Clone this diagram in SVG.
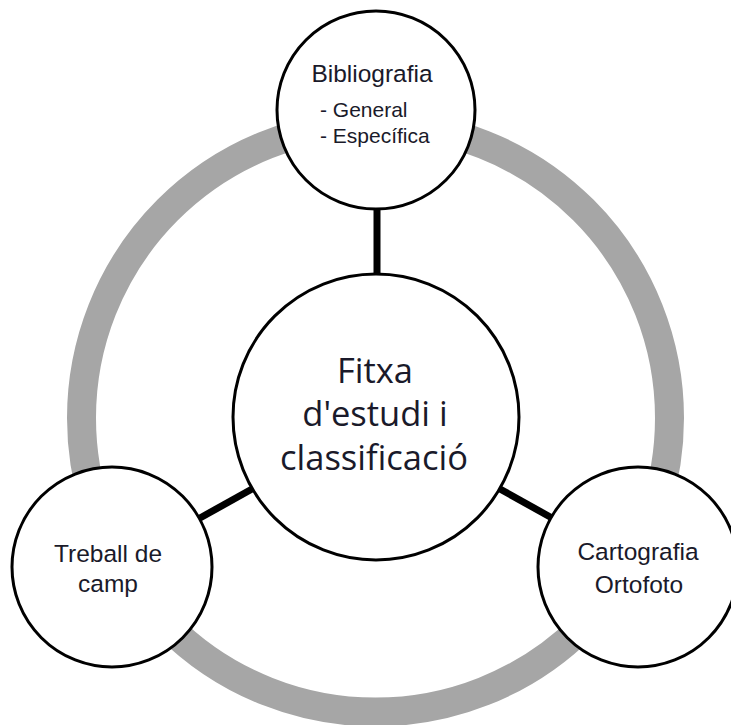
<svg xmlns="http://www.w3.org/2000/svg" width="731" height="725" viewBox="0 0 731 725">
  <style>
    .node { fill: #ffffff; stroke: #000000; stroke-width: 3; }
    .ring { fill: none; stroke: #a6a6a6; stroke-width: 29; }
    .conn { stroke: #000000; stroke-width: 7; stroke-linecap: butt; }
    .lbl { font-family: "Liberation Sans", Arial, sans-serif; fill: #1a1a2a; }
    .big { font-size: 24.5px; }
    .small { font-size: 21px; }
    .center { font-family: "Open Sans", "Noto Sans", sans-serif; font-size: 34.5px; fill: #1a1a2a; }
  </style>
  <rect x="0" y="0" width="731" height="725" fill="#ffffff"/>
  <circle class="ring" cx="375.5" cy="418" r="294"/>
  <g id="connectors">
    <line class="conn" x1="377" y1="207" x2="377" y2="274"/>
    <line class="conn" x1="252" y1="489" x2="200" y2="518"/>
    <line class="conn" x1="500" y1="489" x2="552" y2="518"/>
  </g>
  <g id="node-bibliografia">
    <circle class="node" cx="376" cy="110" r="99"/>
    <text class="lbl big" x="372" y="82" text-anchor="middle">Bibliografia</text>
    <text class="lbl small" x="320" y="117">- General</text>
    <text class="lbl small" x="320" y="143">- Específica</text>
  </g>
  <g id="node-fitxa">
    <circle class="node" cx="376" cy="417" r="143"/>
    <text class="center" x="375" y="383" text-anchor="middle">Fitxa</text>
    <text class="center" x="375" y="426" text-anchor="middle">d'estudi i</text>
    <text class="center" x="374" y="470" text-anchor="middle">classificació</text>
  </g>
  <g id="node-treball">
    <circle class="node" cx="112" cy="567" r="100"/>
    <text class="lbl big" x="108" y="562" text-anchor="middle">Treball de</text>
    <text class="lbl big" x="108" y="592" text-anchor="middle">camp</text>
  </g>
  <g id="node-cartografia">
    <circle class="node" cx="638" cy="567" r="100"/>
    <text class="lbl big" x="638" y="560" text-anchor="middle">Cartografia</text>
    <text class="lbl big" x="639" y="593" text-anchor="middle">Ortofoto</text>
  </g>
</svg>
